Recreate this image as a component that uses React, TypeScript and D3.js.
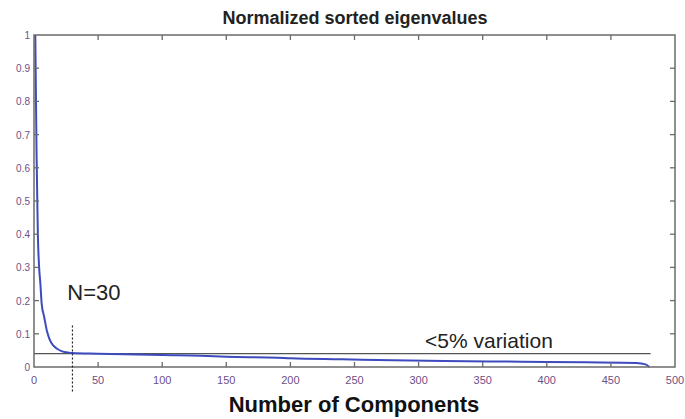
import React, { useEffect, useRef } from 'react';
import * as d3 from 'd3';

// eigenvalue curve: [component index, normalized value]
const componentIdx = [1, 2, 3, 4, 5, 6, 8, 10, 12, 15, 18, 22, 26, 30, 50, 100, 130, 150, 190, 200, 240, 280, 320, 380, 430, 470, 477, 480];
const eigenValues = [1.0, 0.64, 0.4, 0.3, 0.25, 0.19, 0.15, 0.11, 0.085, 0.065, 0.055, 0.047, 0.044, 0.042, 0.04, 0.036, 0.034, 0.031, 0.028, 0.026, 0.023, 0.02, 0.018, 0.016, 0.014, 0.012, 0.008, 0];

const xTicks = [0, 50, 100, 150, 200, 250, 300, 350, 400, 450, 500];
const yTicks = [0, 0.1, 0.2, 0.3, 0.4, 0.5, 0.6, 0.7, 0.8, 0.9, 1];

const thresholdValue = 0.04;
const thresholdEnd = 481;
const cutoffN = 30;
const cutoffTop = 0.125;

function App() {
    const ref = useRef<SVGSVGElement>(null);
    const width = 685;
    const height = 419;
    const margin = { top: 35, right: 10, bottom: 52, left: 34 };

    useEffect(() => {
        const svg = d3.select(ref.current);
        svg.selectAll('*').remove();

        const x = d3.scaleLinear().domain([0, 500]).range([margin.left, width - margin.right]);
        const y = d3.scaleLinear().domain([0, 1]).range([height - margin.bottom, margin.top]);
        const axisColor = '#6b6b6b';
        const labelColor = '#6e4f86';
        const font = '"Liberation Sans", Arial, sans-serif';

        // threshold line
        svg.append('line')
            .attr('x1', x(0)).attr('x2', x(thresholdEnd))
            .attr('y1', y(thresholdValue)).attr('y2', y(thresholdValue))
            .attr('stroke', '#555').attr('stroke-width', 1.3);

        // eigenvalue curve
        const data = componentIdx.map((c, i) => ({ c, v: eigenValues[i] }));
        const line = d3.line<{ c: number; v: number }>()
            .x(d => x(d.c))
            .y(d => y(d.v))
            .curve(d3.curveMonotoneX);
        svg.append('path')
            .datum(data)
            .attr('d', line)
            .attr('fill', 'none')
            .attr('stroke', '#3d4bbf')
            .attr('stroke-width', 2);

        // frame
        svg.append('rect')
            .attr('x', x(0)).attr('y', y(1))
            .attr('width', x(500) - x(0)).attr('height', y(0) - y(1))
            .attr('fill', 'none').attr('stroke', axisColor).attr('stroke-width', 1.5);

        // inward ticks
        const tickLen = 5;
        xTicks.slice(1, -1).forEach(t => {
            svg.append('line').attr('x1', x(t)).attr('x2', x(t))
                .attr('y1', y(0)).attr('y2', y(0) - tickLen)
                .attr('stroke', axisColor).attr('stroke-width', 1.3);
            svg.append('line').attr('x1', x(t)).attr('x2', x(t))
                .attr('y1', y(1)).attr('y2', y(1) + tickLen)
                .attr('stroke', axisColor).attr('stroke-width', 1.3);
        });
        yTicks.slice(1, -1).forEach(t => {
            svg.append('line').attr('x1', x(0)).attr('x2', x(0) + tickLen)
                .attr('y1', y(t)).attr('y2', y(t))
                .attr('stroke', axisColor).attr('stroke-width', 1.3);
            svg.append('line').attr('x1', x(500)).attr('x2', x(500) - tickLen)
                .attr('y1', y(t)).attr('y2', y(t))
                .attr('stroke', axisColor).attr('stroke-width', 1.3);
        });

        // tick labels
        svg.selectAll('.xl').data(xTicks).enter().append('text')
            .attr('x', d => x(d)).attr('y', y(0) + 17)
            .attr('text-anchor', 'middle')
            .style('font', `11px ${font}`)
            .style('fill', labelColor)
            .text(d => d);
        svg.selectAll('.yl').data(yTicks).enter().append('text')
            .attr('x', x(0) - 4).attr('y', d => y(d) + 4)
            .attr('text-anchor', 'end')
            .style('font', `10px ${font}`)
            .style('fill', labelColor)
            .text(d => d);

        // dotted cutoff at N=30
        svg.append('line')
            .attr('x1', x(cutoffN)).attr('x2', x(cutoffN))
            .attr('y1', y(cutoffTop)).attr('y2', y(0) + 26)
            .attr('stroke', '#222').attr('stroke-width', 1.2)
            .attr('stroke-dasharray', '2,2');

        // annotations
        svg.append('text')
            .attr('x', x(26)).attr('y', 300)
            .style('font', `22px ${font}`)
            .style('fill', '#222')
            .text('N=30');
        svg.append('text')
            .attr('x', x(305)).attr('y', y(thresholdValue) - 6)
            .style('font', `21px ${font}`)
            .style('fill', '#222')
            .text('<5% variation');

        // titles
        svg.append('text')
            .attr('x', 355).attr('y', 24)
            .attr('text-anchor', 'middle')
            .style('font', `bold 18px ${font}`)
            .style('fill', '#222')
            .text('Normalized sorted eigenvalues');
        svg.append('text')
            .attr('x', 354).attr('y', 412)
            .attr('text-anchor', 'middle')
            .style('font', `bold 22px ${font}`)
            .style('fill', '#111')
            .text('Number of Components');
    });

    return (
        <svg ref={ref} width={width} height={height}
            style={{ position: 'absolute', left: 0, top: 0, background: '#fff' }} />
    );
}

export default App;
